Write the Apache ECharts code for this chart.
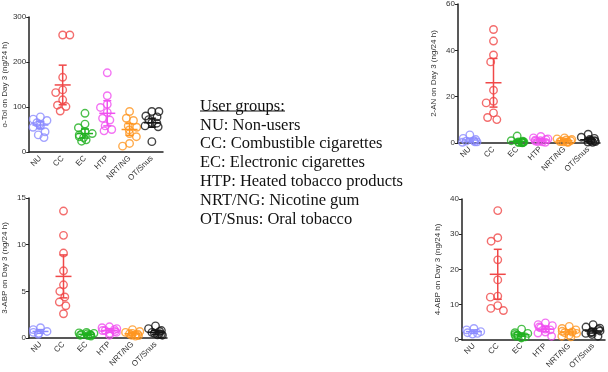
<!DOCTYPE html>
<html>
<head>
<meta charset="utf-8">
<script src="https://cdn.jsdelivr.net/npm/echarts@6/dist/echarts.min.js"></script>
<style>
  html, body { margin: 0; padding: 0; background: #fff; }
  #chart { width: 608px; height: 372px; }
</style>
</head>
<body>
<div id="chart"></div>
<script>
  var groups = ['NU', 'CC', 'EC', 'HTP', 'NRT/NG', 'OT/Snus'];
  var colors = ['#8c8cff', '#f04848', '#1fb01f', '#f050f0', '#ff9620', '#151515'];

  var legendLines = [
    'NU: Non-users',
    'CC: Combustible cigarettes',
    'EC: Electronic cigarettes',
    'HTP: Heated tobacco products',
    'NRT/NG: Nicotine gum',
    'OT/Snus: Oral tobacco'
  ];

  // o-Tol (ng/24 h)
  var oTol = [
    [78, 73, 70, 65, 62, 58, 55, 45, 38, 32],
    [260, 260, 166, 138, 132, 116, 104, 101, 91],
    [86, 62, 54, 45, 41, 38, 34, 32, 27, 24],
    [176, 125, 106, 99, 88, 75, 71, 58, 50, 47],
    [90, 75, 70, 58, 55, 49, 41, 34, 19, 13],
    [90, 90, 80, 78, 72, 65, 64, 58, 56, 23]
  ];
  var oTolMean = [60, 149, 41, 86, 50, 65];
  var oTolErr = [8, 44, 10, 28, 13, 10];

  // 2-AN (ng/24 h)
  var an2 = [
    [3.5, 2, 1.5, 1, 0.8, 0.5, 0.5, 0.3],
    [49, 44, 38, 35, 22.8, 18, 17.3, 13, 11, 10.1],
    [3, 1, 0.8, 0.5, 0.5, 0.3, 0.3, 0.2, 0.2, 0.1],
    [2.8, 2.2, 1.8, 1.5, 1.2, 1, 0.8, 0.6, 0.5, 0.3],
    [2.2, 1.8, 1.5, 1.3, 1, 0.8, 0.6, 0.5, 0.4, 0.3],
    [3.8, 2.5, 2, 1.5, 1.2, 1, 0.8, 0.6, 0.4, 0.3]
  ];
  var an2Mean = [1.3, 26, 0.7, 1.3, 1.0, 1.4];
  var an2Err = [0.8, 10.5, 0.5, 0.5, 0.4, 0.7];

  // 3-ABP (ng/24 h)
  var abp3 = [
    [1.1, 0.9, 0.7, 0.6, 0.5, 0.4],
    [13.6, 11, 9.1, 7.2, 5.7, 5, 4.4, 3.85, 3.45, 2.6],
    [0.6, 0.55, 0.5, 0.45, 0.4, 0.35, 0.3, 0.3, 0.25, 0.2],
    [1.2, 1.1, 1.0, 0.9, 0.8, 0.8, 0.7, 0.6, 0.5, 0.3],
    [0.9, 0.7, 0.6, 0.5, 0.45, 0.4, 0.35, 0.3, 0.25, 0.2],
    [1.3, 1.0, 0.8, 0.7, 0.6, 0.5, 0.45, 0.4, 0.35, 0.3]
  ];
  var abp3Mean = [0.7, 6.6, 0.4, 0.8, 0.45, 0.6];
  var abp3Err = [0.2, 2.3, 0.1, 0.2, 0.15, 0.2];

  // 4-ABP (ng/24 h)
  var abp4 = [
    [3.2, 2.8, 2.3, 2.0, 1.8, 1.6],
    [36.7, 29, 28, 22.7, 17, 12.4, 12.1, 9.7, 8.9, 8.3],
    [3.0, 2.0, 1.8, 1.5, 1.3, 1.2, 1.0, 0.8, 0.7, 0.5],
    [4.8, 4.3, 4.0, 3.6, 3.4, 3.0, 2.8, 2.2, 1.9, 1.0],
    [3.8, 3.2, 2.8, 2.4, 2.2, 2.0, 1.8, 1.3, 1.0, 0.8],
    [4.3, 3.6, 3.3, 2.9, 2.5, 2.2, 2.0, 1.8, 1.5, 1.0]
  ];
  var abp4Mean = [2.3, 18.6, 1.4, 3.0, 2.2, 2.5];
  var abp4Err = [0.5, 7.1, 0.4, 0.7, 0.6, 0.6];

  var panels = [
    { name: 'o-Tol on Day 3 (ng/24 h)', max: 300, step: 100, pts: oTol, mean: oTolMean, err: oTolErr,
      grid: { left: 28, top: 17, width: 135, height: 135 } },
    { name: '2-AN on Day 3 (ng/24 h)', max: 60, step: 20, pts: an2, mean: an2Mean, err: an2Err,
      grid: { left: 458, top: 4, width: 142, height: 139 } },
    { name: '3-ABP on Day 3 (ng/24 h)', max: 15, step: 5, pts: abp3, mean: abp3Mean, err: abp3Err,
      grid: { left: 26, top: 198, width: 141, height: 140 } },
    { name: '4-ABP on Day 3 (ng/24 h)', max: 40, step: 10, pts: abp4, mean: abp4Mean, err: abp4Err,
      grid: { left: 462, top: 199, width: 143, height: 145 } }
  ];

  var font = 'Liberation Sans, Arial, sans-serif';

  function errorBar(params, api) {
    var i = api.value(0);
    var m = api.coord([i, api.value(1)]);
    var lo = api.coord([i, api.value(2)]);
    var hi = api.coord([i, api.value(3)]);
    var c = colors[i];
    var st = { stroke: c, lineWidth: 1.5 };
    return {
      type: 'group',
      children: [
        { type: 'line', shape: { x1: m[0] - 8, y1: m[1], x2: m[0] + 8, y2: m[1] }, style: st },
        { type: 'line', shape: { x1: m[0], y1: lo[1], x2: m[0], y2: hi[1] }, style: st },
        { type: 'line', shape: { x1: m[0] - 4, y1: lo[1], x2: m[0] + 4, y2: lo[1] }, style: st },
        { type: 'line', shape: { x1: m[0] - 4, y1: hi[1], x2: m[0] + 4, y2: hi[1] }, style: st }
      ]
    };
  }

  var grid = [], xAxis = [], yAxis = [], series = [];
  panels.forEach(function (p, k) {
    grid.push(p.grid);
    xAxis.push({
      type: 'category', gridIndex: k, data: groups,
      jitter: 15, jitterOverlap: false, jitterMargin: 0,
      axisLine: { lineStyle: { color: '#222', width: 1.5 } },
      axisTick: { show: false },
      axisLabel: { rotate: 45, fontSize: 8, color: '#333', fontFamily: font, margin: 5, interval: 0 }
    });
    yAxis.push({
      type: 'value', gridIndex: k, min: 0, max: p.max, interval: p.step,
      name: p.name, nameLocation: 'middle', nameGap: 20,
      nameTextStyle: { fontSize: 8, color: '#333', fontFamily: font },
      splitLine: { show: false },
      axisLine: { show: true, lineStyle: { color: '#222', width: 1.5 } },
      axisTick: { show: true, length: 3, lineStyle: { color: '#222' } },
      axisLabel: { fontSize: 8, color: '#333', fontFamily: font, margin: 3 }
    });
    p.pts.forEach(function (vals, g) {
      series.push({
        type: 'scatter', xAxisIndex: k, yAxisIndex: k,
        symbol: 'circle', symbolSize: 7.5,
        itemStyle: { color: 'rgba(0,0,0,0)', borderColor: colors[g], borderWidth: 1.4 },
        data: vals.map(function (v) { return [groups[g], v]; }),
        z: 2
      });
    });
    series.push({
      type: 'custom', xAxisIndex: k, yAxisIndex: k, z: 3,
      renderItem: errorBar,
      data: p.mean.map(function (m, g) { return [g, m, m - p.err[g], m + p.err[g]]; })
    });
  });

  var graphic = [{
    type: 'text', left: 200, top: 97,
    style: {
      text: 'User groups:\n' + legendLines.join('\n'),
      font: '16.5px "Liberation Serif", "Times New Roman", serif',
      lineHeight: 18.8, fill: '#111'
    }
  }, {
    type: 'line', shape: { x1: 200, y1: 111, x2: 285, y2: 111 },
    style: { stroke: '#111', lineWidth: 1 }
  }];

  var chart = echarts.init(document.getElementById('chart'), null, { renderer: 'canvas' });
  chart.setOption({
    animation: false,
    backgroundColor: '#fff',
    grid: grid,
    xAxis: xAxis,
    yAxis: yAxis,
    series: series,
    graphic: graphic
  });
</script>
</body>
</html>
